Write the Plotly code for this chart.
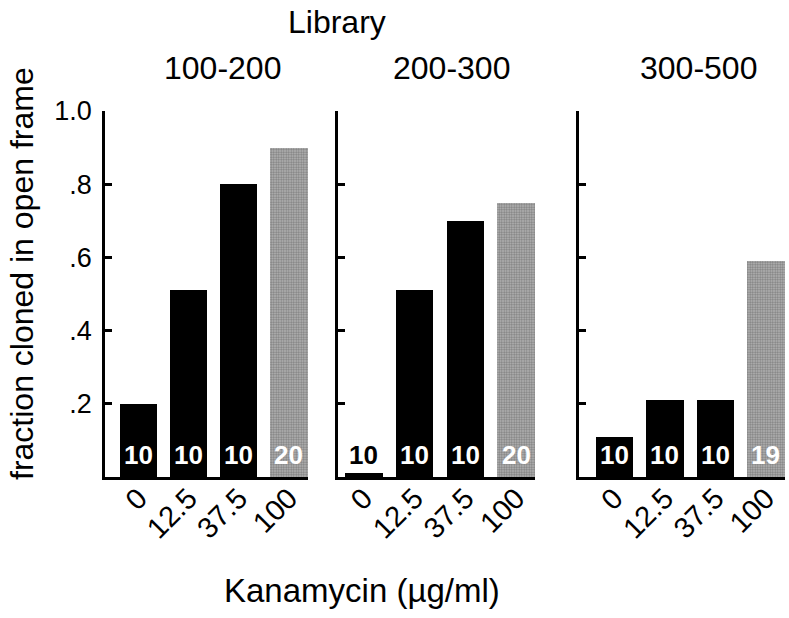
import plotly.graph_objects as go

# ---- data ----
libraries = ["100-200", "200-300", "300-500"]
doses = ["0", "12.5", "37.5", "100"]
frac_100_200 = [0.20, 0.51, 0.80, 0.90]
frac_200_300 = [0.01, 0.51, 0.70, 0.75]
frac_300_500 = [0.11, 0.21, 0.21, 0.59]
n_100_200 = [10, 10, 10, 20]
n_200_300 = [10, 10, 10, 20]
n_300_500 = [10, 10, 10, 19]
ytick_vals = [0.2, 0.4, 0.6, 0.8, 1.0]
ytick_text = [".2", ".4", ".6", ".8", "1.0"]

fracs = [frac_100_200, frac_200_300, frac_300_500]
counts = [n_100_200, n_200_300, n_300_500]

W, H = 789, 618
FONT = "Liberation Sans, Arial, Helvetica, sans-serif"

# pixel layout of each panel: (axis x, last bar right edge, x range left, x range right)
panels_px = [(105, 308, -0.67, 3.38), (338, 535, -0.51, 3.37), (579, 785, -0.70, 3.38)]
title_cx = [222, 451, 698]
y_bot, y_top = 477, 111

fig = go.Figure()
ann = []
for i in range(3):
    xa = "x" if i == 0 else f"x{i+1}"
    ya = "y" if i == 0 else f"y{i+1}"
    colors = ["#000000"] * 3 + ["#b8b8b8"]
    fig.add_trace(go.Bar(
        x=list(range(len(doses))), y=fracs[i], width=0.74,
        xaxis=xa, yaxis=ya,
        marker=dict(color=colors, line=dict(width=0),
                    pattern=dict(shape=["", "", "", "."], fgcolor="#666666",
                                 bgcolor="#d4d4d4", size=2.5, solidity=0.5)),
        showlegend=False, hoverinfo="skip"))
    for j, n in enumerate(counts[i]):
        ann.append(dict(x=j, y=0, xref=xa, yref=ya, text="<b>%d</b>" % n, showarrow=False,
                        yanchor="bottom", yshift=5,
                        font=dict(family=FONT, size=26,
                                  color="#000000" if fracs[i][j] < 0.1 else "#ffffff")))
    ax0, ax1, r0, r1 = panels_px[i]
    fig.layout[("xaxis" if i == 0 else f"xaxis{i+1}")] = dict(
        domain=[ax0 / W, ax1 / W], range=[r0, r1], anchor=ya, automargin=False,
        tickmode="array", tickvals=list(range(len(doses))), ticktext=doses,
        tickangle=-45, ticks="", showline=True, linecolor="black", linewidth=2.5,
        showgrid=False, zeroline=False, ticklabelstandoff=-10,
        tickfont=dict(family=FONT, size=29, color="black"))
    fig.layout[("yaxis" if i == 0 else f"yaxis{i+1}")] = dict(
        domain=[1 - y_bot / H, 1 - y_top / H], range=[0, 1.0], anchor=xa, automargin=False,
        tickmode="array", tickvals=ytick_vals, ticktext=ytick_text,
        showticklabels=(i == 0), ticks="inside", ticklen=7, tickwidth=2.5,
        tickcolor="black", showline=True, linecolor="black", linewidth=2.5,
        showgrid=False, zeroline=False, ticklabelstandoff=5,
        tickfont=dict(family=FONT, size=27, color="black"))
    ann.append(dict(x=title_cx[i] / W, y=1 - 68 / H, xref="paper", yref="paper",
                    text=libraries[i], showarrow=False, xanchor="center", yanchor="middle",
                    font=dict(family=FONT, size=32, color="black")))

ann.append(dict(x=337 / W, y=1 - 22 / H, xref="paper", yref="paper", text="Library",
                showarrow=False, xanchor="center", yanchor="middle",
                font=dict(family=FONT, size=32, color="black")))
ann.append(dict(x=362 / W, y=1 - 590 / H, xref="paper", yref="paper",
                text="Kanamycin (µg/ml)", showarrow=False, xanchor="center", yanchor="middle",
                font=dict(family=FONT, size=33, color="black")))
ann.append(dict(x=22 / W, y=1 - 274 / H, xref="paper", yref="paper",
                text="fraction cloned in open frame", showarrow=False, textangle=-90,
                xanchor="center", yanchor="middle",
                font=dict(family=FONT, size=32, color="black")))

fig.update_layout(width=W, height=H, margin=dict(l=0, r=0, t=0, b=0),
                  paper_bgcolor="white", plot_bgcolor="white",
                  annotations=ann, bargap=0)
fig.write_html("out.html", config={"displayModeBar": False},
               post_script="document.body.style.margin='0';")
